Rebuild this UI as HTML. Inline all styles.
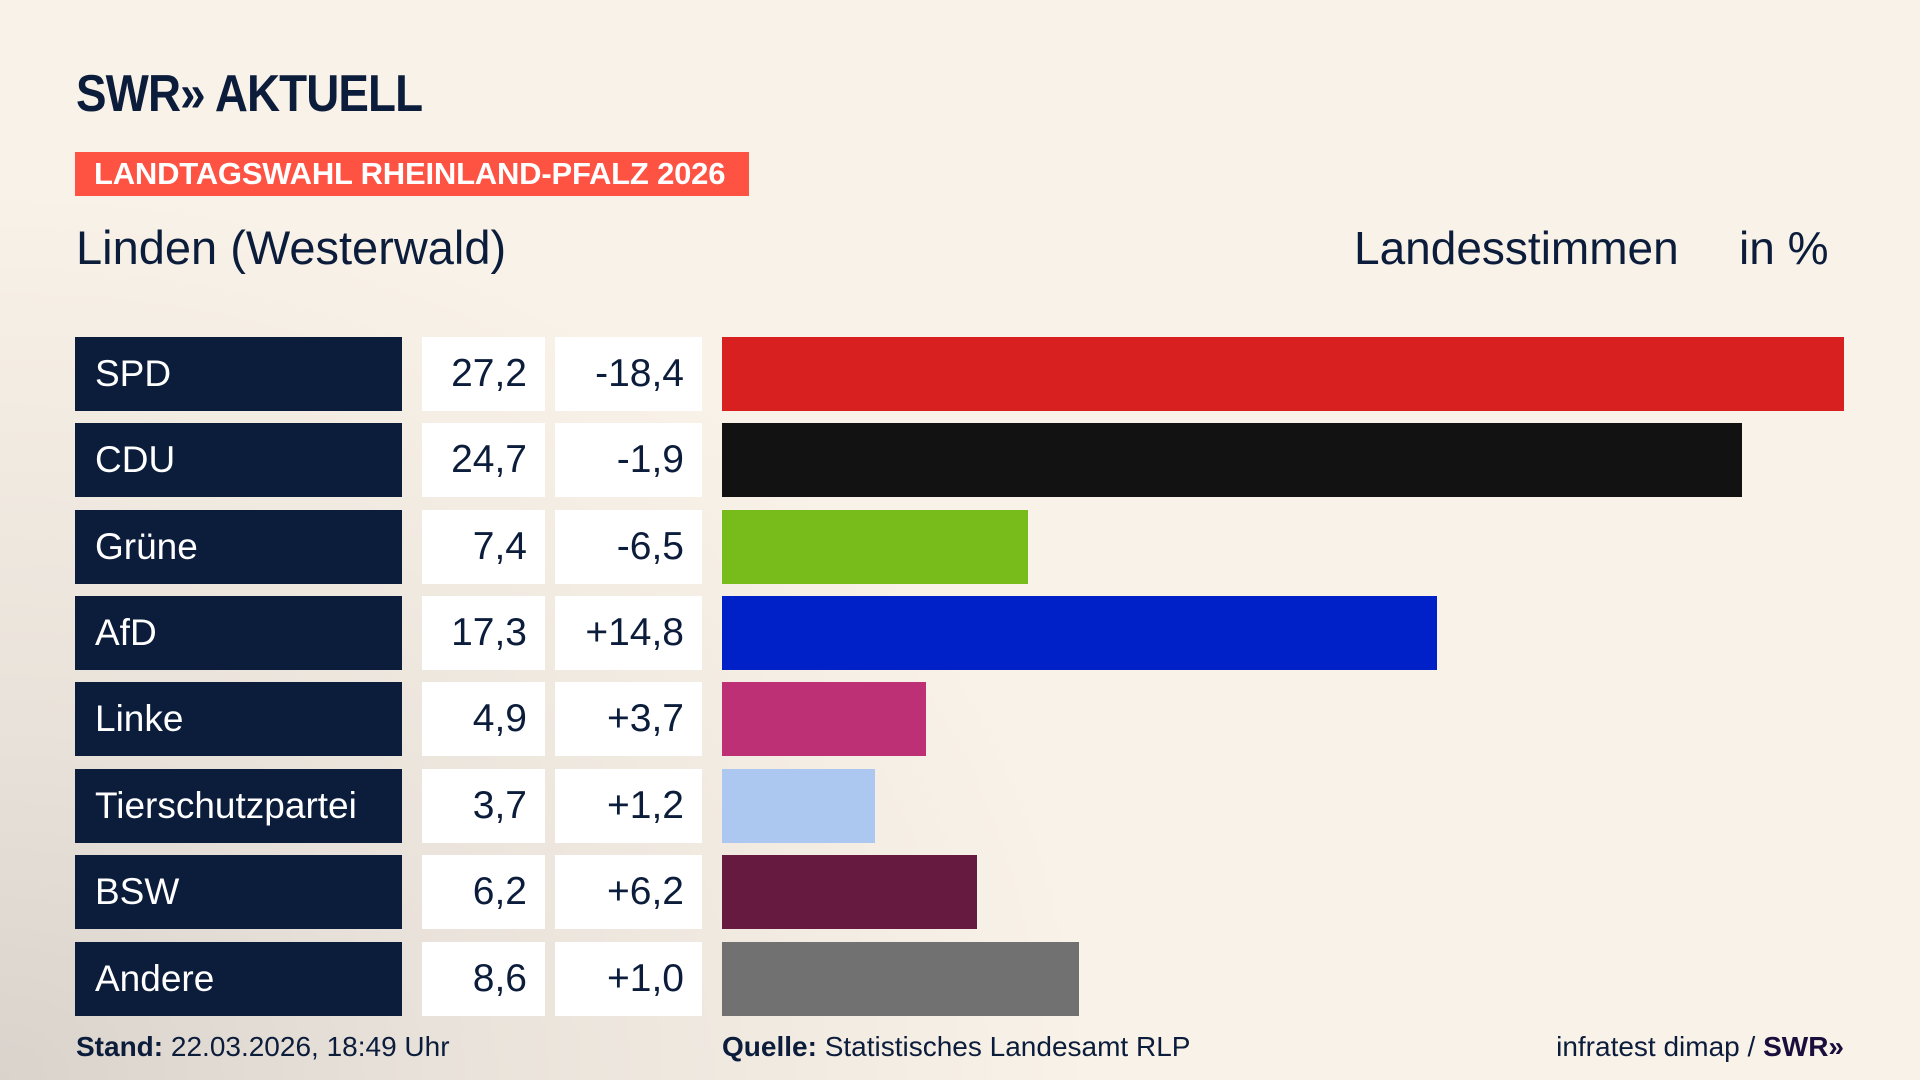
<!DOCTYPE html>
<html><head><meta charset="utf-8"><style>
*{margin:0;padding:0;box-sizing:border-box}
body{width:1920px;height:1080px;overflow:hidden;position:relative;font-family:"Liberation Sans",sans-serif;color:#0c1d3c;
background:radial-gradient(ellipse 1100px 900px at 0px 1080px,#d9d3cc 0%,#e9e2da 40%,rgba(249,241,231,0) 100%),#f9f2e8;}
.abs{position:absolute}
.logo{left:76px;top:64px;font-size:52px;font-weight:bold;letter-spacing:-1px;color:#0c1d3c;transform:scaleX(0.88);transform-origin:left top}
.tag{left:75px;top:152px;width:674px;height:44px;background:#fe5243;color:#fff;font-weight:bold;font-size:31px;line-height:44px;padding-left:19px;letter-spacing:-0.2px}
.title{left:76px;top:220px;font-size:47px}
.hd{top:221px;font-size:46px}
.lab{left:75px;width:327px;height:74px;background:#0c1d3c;color:#fff;font-size:37px;line-height:74px;padding-left:20px}
.val{left:422px;width:123px;height:74px;background:#fff;font-size:39px;line-height:74px;text-align:right;padding-right:18px}
.dif{left:555px;width:147px;height:74px;background:#fff;font-size:39px;line-height:74px;text-align:right;padding-right:18px}
.bar{left:722px;height:74px}
.ft{top:1031px;font-size:28px}
</style></head><body>
<div class="abs logo">SWR» AKTUELL</div>
<div class="abs tag">LANDTAGSWAHL RHEINLAND-PFALZ 2026</div>
<div class="abs title">Linden (Westerwald)</div>
<div class="abs hd" style="left:1354px">Landesstimmen</div>
<div class="abs hd" style="left:1739px">in %</div>

<div class="abs lab" style="top:337px">SPD</div><div class="abs val" style="top:337px">27,2</div><div class="abs dif" style="top:337px">-18,4</div><div class="abs bar" style="top:337px;width:1122px;background:#d82020"></div>
<div class="abs lab" style="top:423px">CDU</div><div class="abs val" style="top:423px">24,7</div><div class="abs dif" style="top:423px">-1,9</div><div class="abs bar" style="top:423px;width:1020px;background:#121212"></div>
<div class="abs lab" style="top:510px">Grüne</div><div class="abs val" style="top:510px">7,4</div><div class="abs dif" style="top:510px">-6,5</div><div class="abs bar" style="top:510px;width:306px;background:#78bc1b"></div>
<div class="abs lab" style="top:596px">AfD</div><div class="abs val" style="top:596px">17,3</div><div class="abs dif" style="top:596px">+14,8</div><div class="abs bar" style="top:596px;width:715px;background:#0021c8"></div>
<div class="abs lab" style="top:682px">Linke</div><div class="abs val" style="top:682px">4,9</div><div class="abs dif" style="top:682px">+3,7</div><div class="abs bar" style="top:682px;width:204px;background:#be3075"></div>
<div class="abs lab" style="top:769px">Tierschutzpartei</div><div class="abs val" style="top:769px">3,7</div><div class="abs dif" style="top:769px">+1,2</div><div class="abs bar" style="top:769px;width:153px;background:#adc8f0"></div>
<div class="abs lab" style="top:855px">BSW</div><div class="abs val" style="top:855px">6,2</div><div class="abs dif" style="top:855px">+6,2</div><div class="abs bar" style="top:855px;width:255px;background:#661a40"></div>
<div class="abs lab" style="top:942px">Andere</div><div class="abs val" style="top:942px">8,6</div><div class="abs dif" style="top:942px">+1,0</div><div class="abs bar" style="top:942px;width:357px;background:#717171"></div>

<div class="abs ft" style="left:76px"><b>Stand:</b> 22.03.2026, 18:49 Uhr</div>
<div class="abs ft" style="left:722px"><b>Quelle:</b> Statistisches Landesamt RLP</div>
<div class="abs ft" style="right:76px">infratest dimap / <b style="color:#1a0f3c">SWR»</b></div>
</body></html>
